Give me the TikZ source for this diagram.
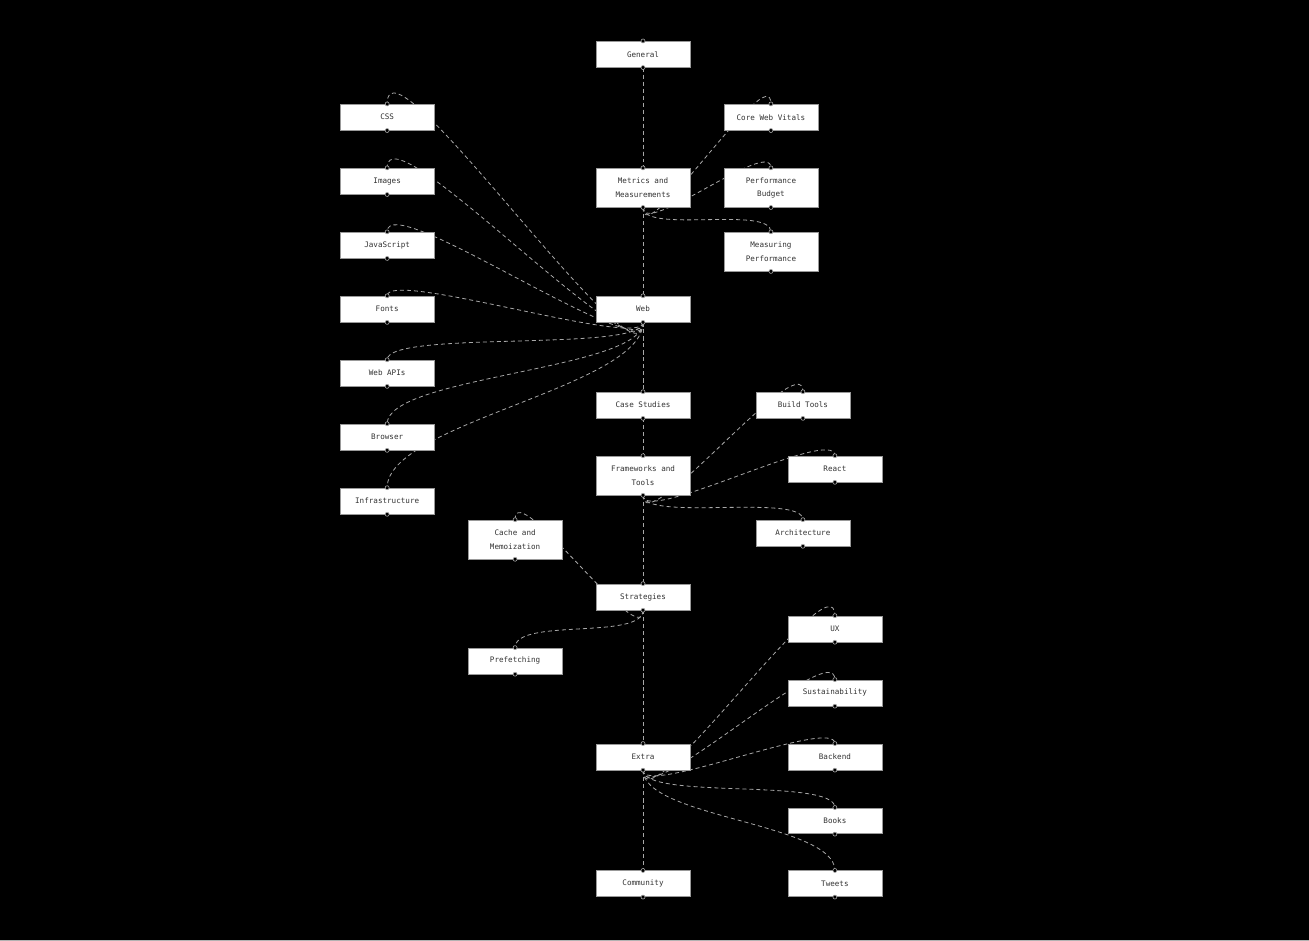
\documentclass[tikz,border=0pt]{standalone}
\usepackage{fontspec}
\setmonofont{DejaVu Sans Mono}
\usetikzlibrary{calc}
\definecolor{edgec}{HTML}{A8A8A8}
\definecolor{txtc}{HTML}{333333}
\definecolor{boxline}{HTML}{999999}
\begin{document}
\begin{tikzpicture}[x=1pt,y=1pt,
  box/.style={draw=boxline, line width=0.6pt, fill=white, anchor=north,
    minimum width=94pt, minimum height=26pt, inner sep=0pt, align=center,
    text=txtc, font=\ttfamily\fontsize{7.6}{13.5}\selectfont},
  tall/.style={box, minimum height=39pt},
  link/.style={draw=edgec, line width=0.8pt, dash pattern=on 4pt off 3pt},
  port/.style={circle, draw=edgec, fill=black, line width=0.6pt, minimum size=4pt, inner sep=0pt}
]
\fill[black] (0,0) rectangle (1309,-941);
\draw[gray!60, line width=0.8pt] (0,-940.6) -- (1309,-940.6);
\useasboundingbox (0,0) rectangle (1309,-941);

% trunk
\path (643,-41)  node[box]  (general) {General};
\path (643,-168) node[tall] (metrics) {Metrics and\\Measurements};
\path (643,-296) node[box]  (web) {Web};
\path (643,-392) node[box]  (case) {Case Studies};
\path (643,-456) node[tall] (frame) {Frameworks and\\Tools};
\path (643,-584) node[box]  (strat) {Strategies};
\path (643,-744) node[box]  (extra) {Extra};
\path (643,-871) node[box]  (community) {Community};
% left column
\path (387,-104) node[box] (css) {CSS};
\path (387,-168) node[box] (images) {Images};
\path (387,-232) node[box] (js) {JavaScript};
\path (387,-296) node[box] (fonts) {Fonts};
\path (387,-360) node[box] (webapis) {Web APIs};
\path (387,-424) node[box] (browser) {Browser};
\path (387,-488) node[box] (infra) {Infrastructure};
% metrics children
\path (771,-104) node[box]  (cwv) {Core Web Vitals};
\path (771,-168) node[tall] (budget) {Performance\\Budget};
\path (771,-232) node[tall] (measuring) {Measuring\\Performance};
% frameworks children
\path (803,-392) node[box] (build) {Build Tools};
\path (835,-456) node[box] (react) {React};
\path (803,-520) node[box] (arch) {Architecture};
% strategies children
\path (515,-520) node[tall] (cache) {Cache and\\Memoization};
\path (515,-648) node[box]  (prefetch) {Prefetching};
% extra children
\path (835,-616) node[box] (ux) {UX};
\path (835,-680) node[box] (sust) {Sustainability};
\path (835,-744) node[box] (backend) {Backend};
\path (835,-808) node[box] (books) {Books};
\path (835,-871) node[box] (tweets) {Tweets};

% edges (drawn, then boxes redrawn on top)
\foreach \a/\b in {general/metrics, metrics/web, metrics/cwv, metrics/budget, metrics/measuring,
  web/case, web/css, web/images, web/js, web/fonts, web/webapis, web/browser, web/infra,
  case/frame, frame/strat, frame/build, frame/react, frame/arch,
  strat/extra, strat/cache, strat/prefetch,
  extra/community, extra/ux, extra/sust, extra/backend, extra/books, extra/tweets}
  \draw[link] let \p1=(\a.south), \p2=(\b.north),
      \n1={20pt+0.27*abs(\y2-\y1)} in
    (\p1) .. controls (\x1,{\y1-\n1}) and (\x2,{\y2+\n1}) .. (\p2);

% redraw boxes over the edges
\path (643,-41)  node[box]  {General};
\path (643,-168) node[tall] {Metrics and\\Measurements};
\path (643,-296) node[box]  {Web};
\path (643,-392) node[box]  {Case Studies};
\path (643,-456) node[tall] {Frameworks and\\Tools};
\path (643,-584) node[box]  {Strategies};
\path (643,-744) node[box]  {Extra};
\path (643,-871) node[box]  {Community};
\path (387,-104) node[box] {CSS};
\path (387,-168) node[box] {Images};
\path (387,-232) node[box] {JavaScript};
\path (387,-296) node[box] {Fonts};
\path (387,-360) node[box] {Web APIs};
\path (387,-424) node[box] {Browser};
\path (387,-488) node[box] {Infrastructure};
\path (771,-104) node[box]  {Core Web Vitals};
\path (771,-168) node[tall] {Performance\\Budget};
\path (771,-232) node[tall] {Measuring\\Performance};
\path (803,-392) node[box] {Build Tools};
\path (835,-456) node[box] {React};
\path (803,-520) node[box] {Architecture};
\path (515,-520) node[tall] {Cache and\\Memoization};
\path (515,-648) node[box]  {Prefetching};
\path (835,-616) node[box] {UX};
\path (835,-680) node[box] {Sustainability};
\path (835,-744) node[box] {Backend};
\path (835,-808) node[box] {Books};
\path (835,-871) node[box] {Tweets};

% ports
\foreach \n in {general,metrics,web,case,frame,strat,extra,community,
  css,images,js,fonts,webapis,browser,infra,cwv,budget,measuring,
  build,react,arch,cache,prefetch,ux,sust,backend,books,tweets}{
  \node[port] at (\n.north) {};
  \node[port] at (\n.south) {};
}
\end{tikzpicture}
\end{document}
